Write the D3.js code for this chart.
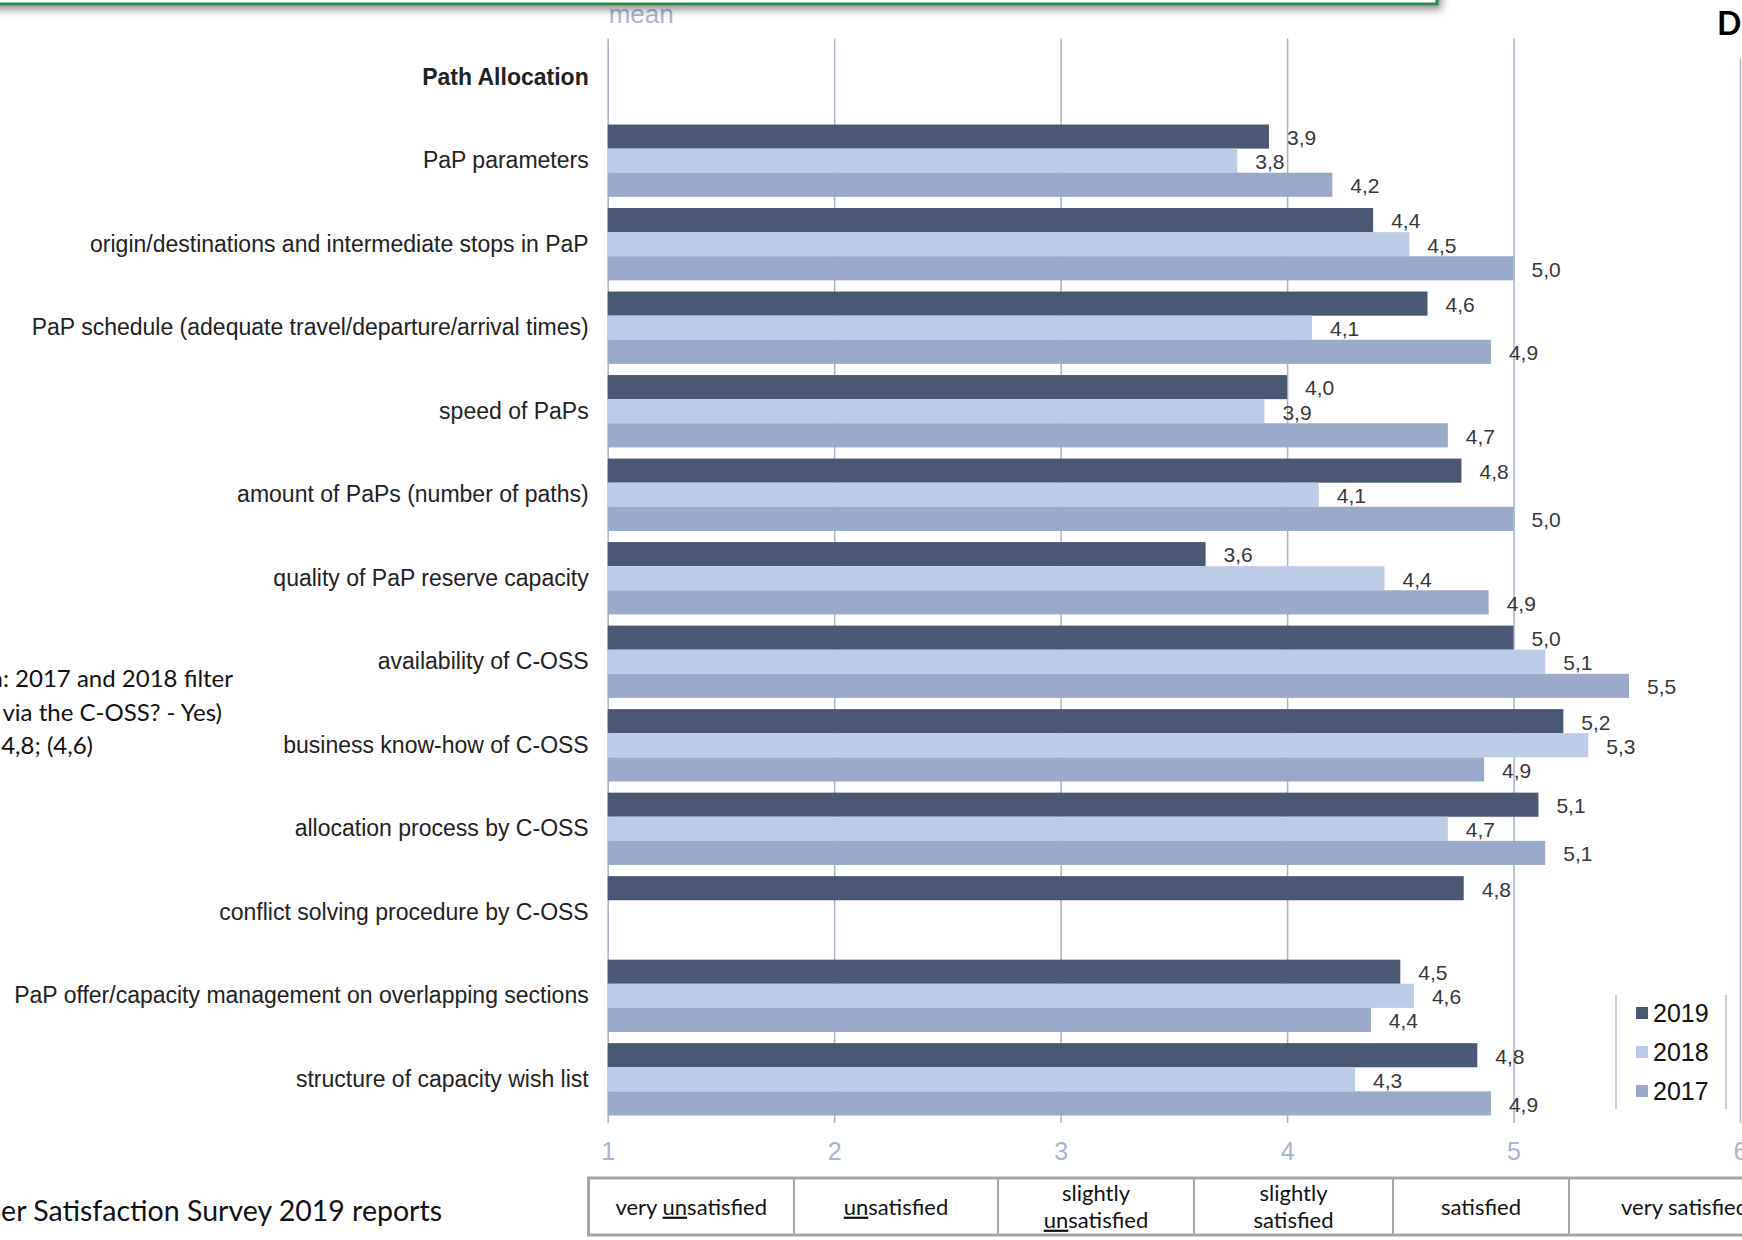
<!DOCTYPE html>
<html lang="en">
<head>
<meta charset="utf-8">
<title>Path Allocation - mean</title>
<script src="https://d3js.org/d3.v7.min.js"></script>
<style>
body { margin: 0; background: #fff; }
svg { display: block; }
.cat text { font-family: "Liberation Sans", Arial, sans-serif; font-size: 23px; fill: #222; }
.grid text { font-family: "Liberation Sans Narrow", "Liberation Sans", Arial, sans-serif; font-size: 25px; fill: #a9b5d0; }
.grid line { stroke: #a7b3cb; stroke-width: 1.5px; }
.val { font-family: "Liberation Sans", Arial, sans-serif; font-size: 21px; fill: #383838; }
.legend text { font-family: "Liberation Sans", Arial, sans-serif; font-size: 25px; fill: #111; }
.note { font-family: Lato, "Open Sans", sans-serif; fill: #111; }
.scale text { font-family: Lato, "Open Sans", sans-serif; font-size: 22px; fill: #111; }
</style>
</head>
<body>
<svg id="chart"></svg>
<script>

// survey items (first one is only the section heading)
const categories = [
  "Path Allocation",
  "PaP parameters",
  "origin/destinations and intermediate stops in PaP",
  "PaP schedule (adequate travel/departure/arrival times)",
  "speed of PaPs",
  "amount of PaPs (number of paths)",
  "quality of PaP reserve capacity",
  "availability of C-OSS",
  "business know-how of C-OSS",
  "allocation process by C-OSS",
  "conflict solving procedure by C-OSS",
  "PaP offer/capacity management on overlapping sections",
  "structure of capacity wish list"
];

const years = ["2019", "2018", "2017"];

const mean2019 = [null, 3.92, 4.38, 4.62, 4.00, 4.77, 3.64, 5.00, 5.22, 5.11, 4.78, 4.50, 4.84];
const mean2018 = [null, 3.78, 4.54, 4.11, 3.90, 4.14, 4.43, 5.14, 5.33, 4.71, null, 4.56, 4.30];
const mean2017 = [null, 4.20, 5.00, 4.90, 4.71, 5.00, 4.89, 5.51, 4.87, 5.14, null, 4.37, 4.90];

const xTicks = [1, 2, 3, 4, 5, 6];
const scaleLabels = ["very unsatisfied", "unsatisfied", "slightly unsatisfied",
                     "slightly satisfied", "satisfied", "very satisfied"];

const noteLines = ["n: 2017 and 2018 filter", "via the C-OSS? - Yes)", "4,8; (4,6)"];
const sourceText = "er Satisfaction Survey 2019 reports";

const width = 1742, height = 1240;
const plotLeft = 607.7, plotRight = 1740, plotTop = 38.5, plotBottom = 1118, axisY = 1123;

const svg = d3.select("#chart")
    .attr("width", width)
    .attr("height", height)
    .attr("viewBox", [0, 0, width, height]);

const color = d3.scaleOrdinal().domain(years).range(["#4a5871", "#bccce5", "#9aaac8"]);

const x = d3.scaleLinear().domain([1, 6]).range([plotLeft, plotRight]);

const y = d3.scaleBand()
    .domain(categories)
    .range([plotTop, plotBottom])
    .paddingInner(0.134)
    .paddingOuter(0.03);

const yy = d3.scaleBand().domain(years).range([0, y.bandwidth()]);

const series = [mean2019, mean2018, mean2017];
const rows = categories.map(function(c, i) {
  return { cat: c, values: years.map(function(yr, j) { return { year: yr, value: series[j][i] }; }) };
});

const fmt = function(v) { return d3.format(".1f")(v).replace(".", ","); };

// "mean" label (top is hidden under the text box shadow)
svg.append("text")
    .attr("x", plotLeft + 1)
    .attr("y", 23)
    .style("font-family", "'Liberation Sans Narrow', 'Liberation Sans', sans-serif")
    .style("font-size", "26px")
    .style("fill", "#a9b5d0")
    .text("mean");

// gridlines + tick labels
const grid = svg.append("g")
    .attr("class", "grid")
    .attr("transform", "translate(0," + axisY + ")")
    .call(d3.axisBottom(x).tickValues(xTicks).tickSize(-(axisY - plotTop)).tickPadding(19).tickFormat(d3.format("d")));
grid.select(".domain").remove();
grid.selectAll(".tick line").attr("stroke", null);
grid.selectAll(".tick text").attr("fill", null);
grid.selectAll(".tick").filter(function(d) { return d === 6; }).select("line").attr("y2", -(axisY - 58));

// bars
const group = svg.append("g")
  .selectAll("g")
  .data(rows)
  .join("g")
    .attr("transform", function(d) { return "translate(0," + y(d.cat) + ")"; });

group.selectAll("rect")
  .data(function(d) { return d.values.filter(function(v) { return v.value != null; }); })
  .join("rect")
    .attr("x", x(1))
    .attr("y", function(d) { return yy(d.year); })
    .attr("width", function(d) { return x(d.value) - x(1); })
    .attr("height", yy.bandwidth())
    .attr("fill", function(d) { return color(d.year); });

group.selectAll("text")
  .data(function(d) { return d.values.filter(function(v) { return v.value != null; }); })
  .join("text")
    .attr("class", "val")
    .attr("x", function(d) { return x(d.value) + 18; })
    .attr("y", function(d) { return yy(d.year) + yy.bandwidth() / 2 + 1; })
    .attr("dy", "0.35em")
    .text(function(d) { return fmt(d.value); });

// category labels
const cat = svg.append("g")
    .attr("class", "cat")
    .attr("transform", "translate(" + plotLeft + ",0)")
    .call(d3.axisLeft(y).tickSize(0).tickPadding(19));
cat.select(".domain").remove();
cat.selectAll(".tick text").attr("fill", null)
    .filter(function(d) { return d === categories[0]; })
    .style("font-weight", "bold");

// legend
const legend = svg.append("g").attr("class", "legend");
[1616, 1726].forEach(function(lx) {
  legend.append("line")
      .attr("x1", lx).attr("x2", lx).attr("y1", 995).attr("y2", 1109)
      .attr("stroke", "#c6cee0").attr("stroke-width", 2);
});
const li = legend.selectAll("g.item")
  .data(years)
  .join("g")
    .attr("class", "item")
    .attr("transform", function(d, i) { return "translate(1636," + (1013 + i * 39) + ")"; });
li.append("rect").attr("x", 0).attr("y", -6).attr("width", 12).attr("height", 12)
    .attr("fill", function(d) { return color(d); });
li.append("text").attr("x", 17).attr("dy", "0.36em").text(function(d) { return d; });

// scale table under the axis
const colEdges = [588.5, 794, 998, 1194, 1393, 1569, 1800];
const tbl = svg.append("g").attr("class", "scale");
tbl.append("rect")
    .attr("x", 588.5).attr("y", 1178).attr("width", 1300).attr("height", 57)
    .attr("fill", "#fff").attr("stroke", "#a6a6a6").attr("stroke-width", 3);
colEdges.slice(1, -1).forEach(function(cx) {
  tbl.append("line").attr("x1", cx).attr("x2", cx).attr("y1", 1178).attr("y2", 1235)
      .attr("stroke", "#a6a6a6").attr("stroke-width", 2);
});
scaleLabels.forEach(function(lbl, i) {
  const cx = (colEdges[i] + colEdges[i + 1]) / 2;
  const words = lbl.split(" ");
  const lines = words[0] === "slightly" ? [words[0], words.slice(1).join(" ")] : [lbl];
  lines.forEach(function(line, k) {
    const cy = lines.length === 1 ? 1207 : 1193 + k * 27;
    const t = tbl.append("text")
        .attr("x", cx).attr("y", cy).attr("dy", "0.35em")
        .attr("text-anchor", "middle");
    const m = line.match(/^(.*?)(un)(satisfied)$/);
    if (m) {
      if (m[1]) t.append("tspan").text(m[1]);
      t.append("tspan").style("text-decoration", "underline").text(m[2]);
      t.append("tspan").text(m[3]);
    } else {
      t.text(line);
    }
  });
});

// side notes (cut off at the page edge)
noteLines.forEach(function(line, i) {
  svg.append("text")
      .attr("class", "note")
      .attr("x", [233, 222, 93][i])
      .attr("y", [679, 713, 746][i])
      .attr("dy", "0.35em")
      .attr("text-anchor", "end")
      .style("font-size", "24px")
      .text(line);
});
svg.append("text")
    .attr("class", "note")
    .attr("x", 442).attr("y", 1211).attr("dy", "0.35em")
    .attr("text-anchor", "end")
    .style("font-size", "28.5px")
    .text(sourceText);

svg.append("text")
    .attr("x", 1717).attr("y", 35)
    .style("font-family", "Lato, sans-serif")
    .style("font-weight", "bold")
    .style("font-size", "32px")
    .style("fill", "#000")
    .text("D");

// text box at the top edge with its shadow
const defs = svg.append("defs");
const f = defs.append("filter").attr("id", "shadow").attr("x", "-5%").attr("y", "-50%").attr("width", "110%").attr("height", "200%");
f.append("feDropShadow").attr("dx", 3).attr("dy", 4).attr("stdDeviation", 4)
    .attr("flood-color", "#000").attr("flood-opacity", 0.45);
svg.append("rect")
    .attr("x", -20).attr("y", -60).attr("width", 1457).attr("height", 64)
    .attr("fill", "#fff").attr("stroke", "#2e8a46").attr("stroke-width", 3)
    .attr("filter", "url(#shadow)");

</script>
</body>
</html>
